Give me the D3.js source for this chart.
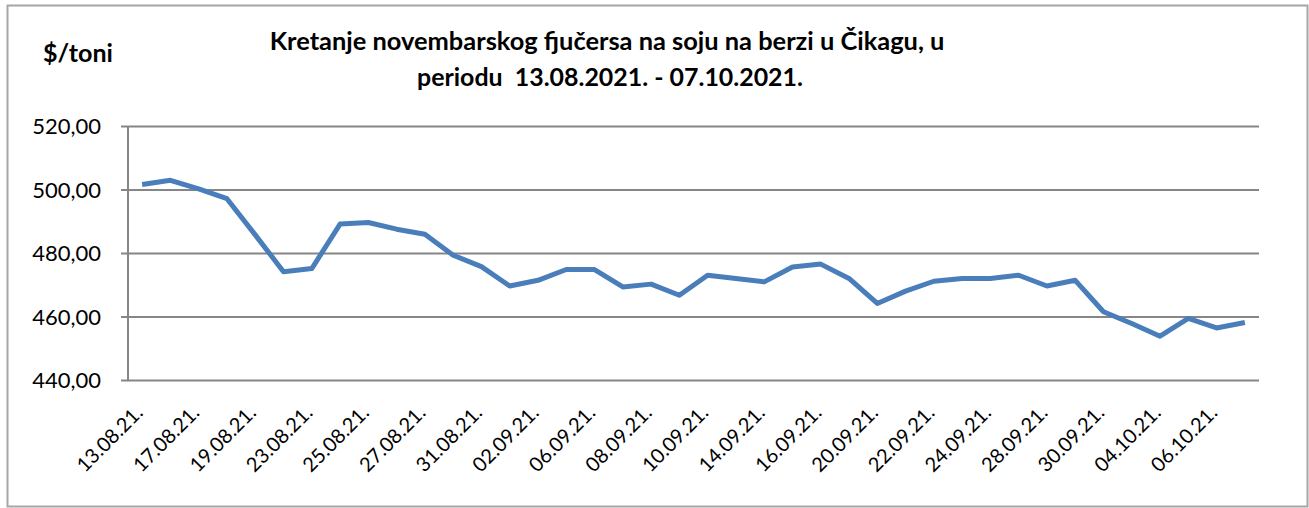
<!DOCTYPE html>
<html>
<head>
<meta charset="utf-8">
<script src="https://cdn.jsdelivr.net/npm/d3@7"></script>
<style>
  html, body { margin: 0; padding: 0; background: #fff; }
  svg { display: block; }
  text { font-family: Lato, "Open Sans", sans-serif; fill: #000; }
</style>
</head>
<body>
<svg id="chart" width="1309" height="508"></svg>
<script>
const dates = ["13.08.21.","16.08.21.","17.08.21.","18.08.21.","19.08.21.","20.08.21.","23.08.21.","24.08.21.","25.08.21.","26.08.21.",
  "27.08.21.","30.08.21.","31.08.21.","01.09.21.","02.09.21.","03.09.21.","06.09.21.","07.09.21.","08.09.21.","09.09.21.",
  "10.09.21.","13.09.21.","14.09.21.","15.09.21.","16.09.21.","17.09.21.","20.09.21.","21.09.21.","22.09.21.","23.09.21.",
  "24.09.21.","27.09.21.","28.09.21.","29.09.21.","30.09.21.","01.10.21.","04.10.21.","05.10.21.","06.10.21.","07.10.21."];
const prices = [501.6,502.9,500.2,497.1,485.7,474.1,475.1,489.1,489.6,487.5,
  485.9,479.3,475.7,469.6,471.4,474.8,474.8,469.3,470.2,466.7,
  473.0,472.0,470.9,475.6,476.5,472.0,464.1,468.0,471.1,472.0,
  472.0,473.0,469.6,471.4,461.5,457.8,453.8,459.4,456.4,458.1];
const yTicks = [440,460,480,500,520];
const titleLines = ["Kretanje novembarskog fjučersa na soju na berzi u Čikagu, u", "periodu  13.08.2021. - 07.10.2021."];
const yUnit = "$/toni";

const svg = d3.select("#chart");
const plot = {left: 128, right: 1259, top: 126, bottom: 380};

// outer frame
svg.append("rect").attr("x", 7.5).attr("y", 5.5).attr("width", 1300).attr("height", 501)
  .attr("fill", "none").attr("stroke", "#a6a6a6").attr("stroke-width", 2);

const x = d3.scaleBand().domain(dates).range([plot.left, plot.right]).padding(0);
const y = d3.scaleLinear().domain([440, 520]).range([plot.bottom, plot.top]);

// gridlines + y axis
const yAxis = d3.axisLeft(y).tickValues(yTicks).tickSize(-(plot.right - plot.left)).tickPadding(27)
  .tickFormat(d => d3.format(".2f")(d).replace(".", ","));
const gy = svg.append("g").attr("transform", `translate(${plot.left},0)`).call(yAxis);
gy.select(".domain").remove();
gy.selectAll(".tick line").attr("x1", -7).attr("stroke", "#868686").attr("stroke-width", 2);
gy.selectAll(".tick text").attr("font-size", 22).attr("font-family", "Lato").attr("fill", "#000").attr("dy", "0.36em");

// y axis line
svg.append("line").attr("x1", plot.left).attr("x2", plot.left).attr("y1", plot.top).attr("y2", plot.bottom)
  .attr("stroke", "#868686").attr("stroke-width", 2);

// x labels (every second category)
const labelDates = dates.filter((d, i) => i % 2 === 0);
const xl = svg.append("g");
xl.selectAll("text").data(labelDates).join("text")
  .attr("transform", d => `translate(${x(d) + x.bandwidth() / 2 + 2},414) rotate(-45)`)
  .attr("text-anchor", "end")
  .attr("font-size", 20)
  .text(d => d);

// line
const line = d3.line().x((d, i) => x(dates[i]) + x.bandwidth() / 2).y(d => y(d));
svg.append("path").datum(prices).attr("d", line)
  .attr("fill", "none").attr("stroke", "#4a7ebb").attr("stroke-width", 5)
  .attr("stroke-linejoin", "round");

// helper to fit text width
function fit(sel, target) {
  const node = sel.node();
  const fs = parseFloat(sel.attr("font-size"));
  const w = node.getComputedTextLength();
  sel.attr("font-size", (fs * target / w).toFixed(2));
}

// titles
const t1 = svg.append("text").attr("x", 607).attr("y", 50).attr("text-anchor", "middle")
  .attr("font-weight", "bold").attr("font-size", 22).text(titleLines[0]);
fit(t1, 675);
const t2 = svg.append("text").attr("x", 610).attr("y", 86).attr("text-anchor", "middle")
  .attr("font-weight", "bold").attr("font-size", 22).style("white-space", "pre").text(titleLines[1]);
fit(t2, 386);

const u = svg.append("text").attr("x", 43).attr("y", 62).attr("font-weight", "bold").attr("font-size", 22).text(yUnit);
fit(u, 70);
</script>
</body>
</html>
